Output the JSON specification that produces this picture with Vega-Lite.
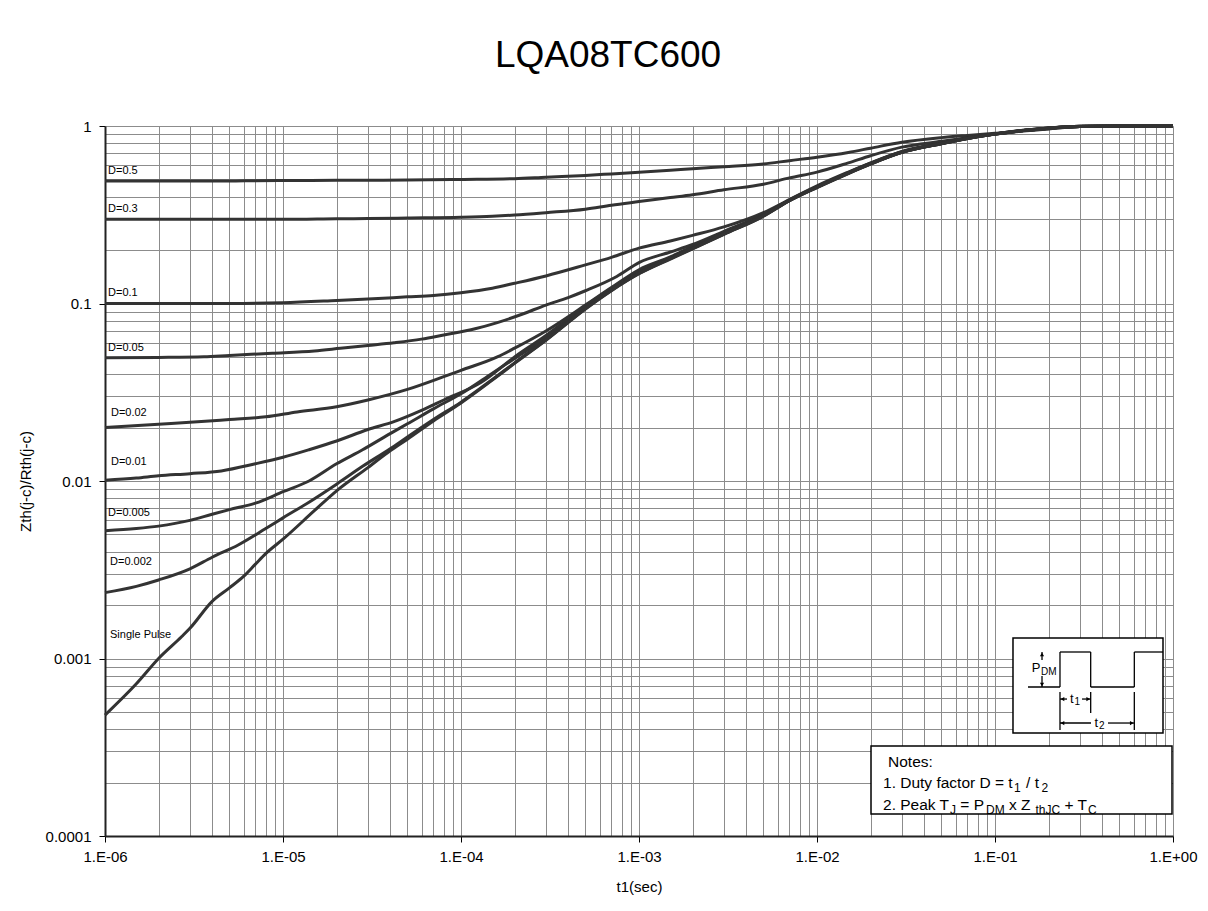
{
  "$schema": "https://vega.github.io/schema/vega-lite/v6.json",
  "width": 1068,
  "height": 710,
  "autosize": {"type": "none"},
  "padding": {"left": 105, "top": 126, "right": 35, "bottom": 75},
  "background": "white",
  "title": {"text": "LQA08TC600", "fontSize": 37, "font": "Liberation Sans", "fontWeight": "normal", "color": "black", "anchor": "middle", "dx": -31, "offset": 15, "baseline": "alphabetic"},
  "config": {"view": {"stroke": null}, "font": "Liberation Sans"},
  "datasets": {
    "curves": [
      {"series":"D=0.5","x":1e-6,"y":0.49},{"series":"D=0.5","x":3e-6,"y":0.49},{"series":"D=0.5","x":5e-6,"y":0.49},{"series":"D=0.5","x":7e-6,"y":0.492},{"series":"D=0.5","x":1e-5,"y":0.493},{"series":"D=0.5","x":2e-5,"y":0.494},{"series":"D=0.5","x":3e-5,"y":0.495},{"series":"D=0.5","x":5e-5,"y":0.496},{"series":"D=0.5","x":1e-4,"y":0.5},{"series":"D=0.5","x":2e-4,"y":0.505},{"series":"D=0.5","x":3e-4,"y":0.515},{"series":"D=0.5","x":5e-4,"y":0.527},{"series":"D=0.5","x":7e-4,"y":0.537},{"series":"D=0.5","x":1e-3,"y":0.548},{"series":"D=0.5","x":1.5e-3,"y":0.563},{"series":"D=0.5","x":2e-3,"y":0.575},{"series":"D=0.5","x":3e-3,"y":0.59},{"series":"D=0.5","x":5e-3,"y":0.611},{"series":"D=0.5","x":7e-3,"y":0.638},{"series":"D=0.5","x":1e-2,"y":0.667},{"series":"D=0.5","x":1.5e-2,"y":0.71},{"series":"D=0.5","x":2e-2,"y":0.75},{"series":"D=0.5","x":3e-2,"y":0.81},{"series":"D=0.5","x":5e-2,"y":0.86},{"series":"D=0.5","x":7e-2,"y":0.885},{"series":"D=0.5","x":0.1,"y":0.91},{"series":"D=0.5","x":0.15,"y":0.945},{"series":"D=0.5","x":0.2,"y":0.965},{"series":"D=0.5","x":0.3,"y":0.995},{"series":"D=0.5","x":0.5,"y":1},{"series":"D=0.5","x":1,"y":1},
      {"series":"D=0.3","x":1e-6,"y":0.298},{"series":"D=0.3","x":5e-6,"y":0.298},{"series":"D=0.3","x":1e-5,"y":0.298},{"series":"D=0.3","x":2e-5,"y":0.3},{"series":"D=0.3","x":3e-5,"y":0.301},{"series":"D=0.3","x":5e-5,"y":0.303},{"series":"D=0.3","x":1e-4,"y":0.306},{"series":"D=0.3","x":1.5e-4,"y":0.31},{"series":"D=0.3","x":2e-4,"y":0.315},{"series":"D=0.3","x":3e-4,"y":0.325},{"series":"D=0.3","x":5e-4,"y":0.34},{"series":"D=0.3","x":7e-4,"y":0.358},{"series":"D=0.3","x":1e-3,"y":0.375},{"series":"D=0.3","x":1.5e-3,"y":0.395},{"series":"D=0.3","x":2e-3,"y":0.41},{"series":"D=0.3","x":3e-3,"y":0.437},{"series":"D=0.3","x":5e-3,"y":0.47},{"series":"D=0.3","x":7e-3,"y":0.51},{"series":"D=0.3","x":1e-2,"y":0.55},{"series":"D=0.3","x":1.5e-2,"y":0.62},{"series":"D=0.3","x":2e-2,"y":0.68},{"series":"D=0.3","x":3e-2,"y":0.76},{"series":"D=0.3","x":5e-2,"y":0.82},{"series":"D=0.3","x":7e-2,"y":0.86},{"series":"D=0.3","x":0.1,"y":0.9},{"series":"D=0.3","x":0.15,"y":0.94},{"series":"D=0.3","x":0.2,"y":0.963},{"series":"D=0.3","x":0.3,"y":0.993},{"series":"D=0.3","x":0.5,"y":1},{"series":"D=0.3","x":1,"y":1},
      {"series":"D=0.1","x":1e-6,"y":0.1},{"series":"D=0.1","x":5e-6,"y":0.1},{"series":"D=0.1","x":1e-5,"y":0.101},{"series":"D=0.1","x":2e-5,"y":0.104},{"series":"D=0.1","x":3e-5,"y":0.106},{"series":"D=0.1","x":5e-5,"y":0.109},{"series":"D=0.1","x":7e-5,"y":0.111},{"series":"D=0.1","x":1e-4,"y":0.115},{"series":"D=0.1","x":1.5e-4,"y":0.122},{"series":"D=0.1","x":2e-4,"y":0.13},{"series":"D=0.1","x":3e-4,"y":0.143},{"series":"D=0.1","x":5e-4,"y":0.165},{"series":"D=0.1","x":7e-4,"y":0.182},{"series":"D=0.1","x":1e-3,"y":0.205},{"series":"D=0.1","x":1.5e-3,"y":0.225},{"series":"D=0.1","x":2e-3,"y":0.242},{"series":"D=0.1","x":3e-3,"y":0.27},{"series":"D=0.1","x":5e-3,"y":0.325},{"series":"D=0.1","x":7e-3,"y":0.385},{"series":"D=0.1","x":1e-2,"y":0.46},{"series":"D=0.1","x":1.5e-2,"y":0.55},{"series":"D=0.1","x":2e-2,"y":0.62},{"series":"D=0.1","x":3e-2,"y":0.72},{"series":"D=0.1","x":5e-2,"y":0.8},{"series":"D=0.1","x":7e-2,"y":0.855},{"series":"D=0.1","x":0.1,"y":0.905},{"series":"D=0.1","x":0.15,"y":0.95},{"series":"D=0.1","x":0.2,"y":0.974},{"series":"D=0.1","x":0.3,"y":0.996},{"series":"D=0.1","x":0.5,"y":1},{"series":"D=0.1","x":1,"y":1},
      {"series":"D=0.05","x":1e-6,"y":0.0495},{"series":"D=0.05","x":2e-6,"y":0.0497},{"series":"D=0.05","x":3.6e-6,"y":0.0501},{"series":"D=0.05","x":5e-6,"y":0.051},{"series":"D=0.05","x":8.7e-6,"y":0.0524},{"series":"D=0.05","x":1.5e-5,"y":0.054},{"series":"D=0.05","x":2.1e-5,"y":0.0559},{"series":"D=0.05","x":3e-5,"y":0.058},{"series":"D=0.05","x":4.2e-5,"y":0.0601},{"series":"D=0.05","x":6e-5,"y":0.063},{"series":"D=0.05","x":8e-5,"y":0.0665},{"series":"D=0.05","x":1.2e-4,"y":0.072},{"series":"D=0.05","x":1.6e-4,"y":0.078},{"series":"D=0.05","x":2.2e-4,"y":0.087},{"series":"D=0.05","x":3e-4,"y":0.098},{"series":"D=0.05","x":4e-4,"y":0.108},{"series":"D=0.05","x":5e-4,"y":0.118},{"series":"D=0.05","x":7.5e-4,"y":0.142},{"series":"D=0.05","x":1e-3,"y":0.17},{"series":"D=0.05","x":1.5e-3,"y":0.195},{"series":"D=0.05","x":2e-3,"y":0.215},{"series":"D=0.05","x":3e-3,"y":0.255},{"series":"D=0.05","x":5e-3,"y":0.318},{"series":"D=0.05","x":7e-3,"y":0.383},{"series":"D=0.05","x":1e-2,"y":0.456},{"series":"D=0.05","x":1.5e-2,"y":0.547},{"series":"D=0.05","x":2e-2,"y":0.617},{"series":"D=0.05","x":3e-2,"y":0.716},{"series":"D=0.05","x":5e-2,"y":0.798},{"series":"D=0.05","x":7e-2,"y":0.853},{"series":"D=0.05","x":0.1,"y":0.903},{"series":"D=0.05","x":0.15,"y":0.948},{"series":"D=0.05","x":0.2,"y":0.973},{"series":"D=0.05","x":0.3,"y":0.996},{"series":"D=0.05","x":0.5,"y":1},{"series":"D=0.05","x":1,"y":1},
      {"series":"D=0.02","x":1e-6,"y":0.02},{"series":"D=0.02","x":2e-6,"y":0.0209},{"series":"D=0.02","x":3e-6,"y":0.0214},{"series":"D=0.02","x":5e-6,"y":0.0222},{"series":"D=0.02","x":8e-6,"y":0.023},{"series":"D=0.02","x":1.2e-5,"y":0.0245},{"series":"D=0.02","x":2e-5,"y":0.0262},{"series":"D=0.02","x":3e-5,"y":0.0286},{"series":"D=0.02","x":5e-5,"y":0.0328},{"series":"D=0.02","x":8e-5,"y":0.0387},{"series":"D=0.02","x":1e-4,"y":0.042},{"series":"D=0.02","x":1.6e-4,"y":0.05},{"series":"D=0.02","x":2e-4,"y":0.056},{"series":"D=0.02","x":3e-4,"y":0.07},{"series":"D=0.02","x":5e-4,"y":0.098},{"series":"D=0.02","x":7e-4,"y":0.123},{"series":"D=0.02","x":1e-3,"y":0.155},{"series":"D=0.02","x":1.5e-3,"y":0.183},{"series":"D=0.02","x":2e-3,"y":0.21},{"series":"D=0.02","x":3e-3,"y":0.252},{"series":"D=0.02","x":5e-3,"y":0.316},{"series":"D=0.02","x":7e-3,"y":0.382},{"series":"D=0.02","x":1e-2,"y":0.455},{"series":"D=0.02","x":1.5e-2,"y":0.545},{"series":"D=0.02","x":2e-2,"y":0.615},{"series":"D=0.02","x":3e-2,"y":0.714},{"series":"D=0.02","x":5e-2,"y":0.797},{"series":"D=0.02","x":7e-2,"y":0.852},{"series":"D=0.02","x":0.1,"y":0.902},{"series":"D=0.02","x":0.15,"y":0.947},{"series":"D=0.02","x":0.2,"y":0.973},{"series":"D=0.02","x":0.3,"y":0.996},{"series":"D=0.02","x":0.5,"y":1},{"series":"D=0.02","x":1,"y":1},
      {"series":"D=0.01","x":1e-6,"y":0.0101},{"series":"D=0.01","x":1.5e-6,"y":0.0104},{"series":"D=0.01","x":2e-6,"y":0.0107},{"series":"D=0.01","x":3e-6,"y":0.011},{"series":"D=0.01","x":4.5e-6,"y":0.0114},{"series":"D=0.01","x":7e-6,"y":0.0125},{"series":"D=0.01","x":1e-5,"y":0.0136},{"series":"D=0.01","x":1.4e-5,"y":0.015},{"series":"D=0.01","x":2e-5,"y":0.0168},{"series":"D=0.01","x":3e-5,"y":0.0195},{"series":"D=0.01","x":4.2e-5,"y":0.0216},{"series":"D=0.01","x":6e-5,"y":0.025},{"series":"D=0.01","x":8e-5,"y":0.0286},{"series":"D=0.01","x":1.3e-4,"y":0.036},{"series":"D=0.01","x":2e-4,"y":0.05},{"series":"D=0.01","x":3e-4,"y":0.066},{"series":"D=0.01","x":5e-4,"y":0.097},{"series":"D=0.01","x":7e-4,"y":0.122},{"series":"D=0.01","x":1e-3,"y":0.151},{"series":"D=0.01","x":1.5e-3,"y":0.181},{"series":"D=0.01","x":2e-3,"y":0.207},{"series":"D=0.01","x":3e-3,"y":0.249},{"series":"D=0.01","x":5e-3,"y":0.314},{"series":"D=0.01","x":7e-3,"y":0.381},{"series":"D=0.01","x":1e-2,"y":0.453},{"series":"D=0.01","x":1.5e-2,"y":0.543},{"series":"D=0.01","x":2e-2,"y":0.613},{"series":"D=0.01","x":3e-2,"y":0.712},{"series":"D=0.01","x":5e-2,"y":0.796},{"series":"D=0.01","x":7e-2,"y":0.851},{"series":"D=0.01","x":0.1,"y":0.901},{"series":"D=0.01","x":0.15,"y":0.946},{"series":"D=0.01","x":0.2,"y":0.972},{"series":"D=0.01","x":0.3,"y":0.995},{"series":"D=0.01","x":0.5,"y":1},{"series":"D=0.01","x":1,"y":1},
      {"series":"D=0.005","x":1e-6,"y":0.00525},{"series":"D=0.005","x":1.5e-6,"y":0.0054},{"series":"D=0.005","x":2e-6,"y":0.00557},{"series":"D=0.005","x":3e-6,"y":0.006},{"series":"D=0.005","x":4e-6,"y":0.0065},{"series":"D=0.005","x":5e-6,"y":0.0069},{"series":"D=0.005","x":7e-6,"y":0.0075},{"series":"D=0.005","x":1e-5,"y":0.0087},{"series":"D=0.005","x":1.4e-5,"y":0.01},{"series":"D=0.005","x":2e-5,"y":0.0125},{"series":"D=0.005","x":2.8e-5,"y":0.015},{"series":"D=0.005","x":4e-5,"y":0.0185},{"series":"D=0.005","x":5e-5,"y":0.021},{"series":"D=0.005","x":7e-5,"y":0.0255},{"series":"D=0.005","x":1e-4,"y":0.031},{"series":"D=0.005","x":1.5e-4,"y":0.0405},{"series":"D=0.005","x":2e-4,"y":0.049},{"series":"D=0.005","x":3e-4,"y":0.064},{"series":"D=0.005","x":5e-4,"y":0.095},{"series":"D=0.005","x":7e-4,"y":0.12},{"series":"D=0.005","x":1e-3,"y":0.149},{"series":"D=0.005","x":1.5e-3,"y":0.18},{"series":"D=0.005","x":2e-3,"y":0.205},{"series":"D=0.005","x":3e-3,"y":0.247},{"series":"D=0.005","x":5e-3,"y":0.312},{"series":"D=0.005","x":7e-3,"y":0.38},{"series":"D=0.005","x":1e-2,"y":0.452},{"series":"D=0.005","x":1.5e-2,"y":0.542},{"series":"D=0.005","x":2e-2,"y":0.612},{"series":"D=0.005","x":3e-2,"y":0.711},{"series":"D=0.005","x":5e-2,"y":0.796},{"series":"D=0.005","x":7e-2,"y":0.85},{"series":"D=0.005","x":0.1,"y":0.9},{"series":"D=0.005","x":0.15,"y":0.946},{"series":"D=0.005","x":0.2,"y":0.972},{"series":"D=0.005","x":0.3,"y":0.995},{"series":"D=0.005","x":0.5,"y":1},{"series":"D=0.005","x":1,"y":1},
      {"series":"D=0.002","x":1e-6,"y":0.00235},{"series":"D=0.002","x":1.5e-6,"y":0.00255},{"series":"D=0.002","x":2e-6,"y":0.00277},{"series":"D=0.002","x":3e-6,"y":0.0032},{"series":"D=0.002","x":4e-6,"y":0.00372},{"series":"D=0.002","x":5.6e-6,"y":0.00436},{"series":"D=0.002","x":8e-6,"y":0.0054},{"series":"D=0.002","x":1e-5,"y":0.0062},{"series":"D=0.002","x":1.4e-5,"y":0.0076},{"series":"D=0.002","x":2e-5,"y":0.0096},{"series":"D=0.002","x":2.8e-5,"y":0.0121},{"series":"D=0.002","x":4e-5,"y":0.0152},{"series":"D=0.002","x":5e-5,"y":0.0177},{"series":"D=0.002","x":7e-5,"y":0.0222},{"series":"D=0.002","x":1e-4,"y":0.0278},{"series":"D=0.002","x":1.5e-4,"y":0.0373},{"series":"D=0.002","x":2e-4,"y":0.0463},{"series":"D=0.002","x":3e-4,"y":0.0623},{"series":"D=0.002","x":5e-4,"y":0.0935},{"series":"D=0.002","x":7e-4,"y":0.1185},{"series":"D=0.002","x":1e-3,"y":0.1475},{"series":"D=0.002","x":1.5e-3,"y":0.179},{"series":"D=0.002","x":2e-3,"y":0.204},{"series":"D=0.002","x":3e-3,"y":0.246},{"series":"D=0.002","x":5e-3,"y":0.311},{"series":"D=0.002","x":7e-3,"y":0.38},{"series":"D=0.002","x":1e-2,"y":0.451},{"series":"D=0.002","x":1.5e-2,"y":0.541},{"series":"D=0.002","x":2e-2,"y":0.611},{"series":"D=0.002","x":3e-2,"y":0.711},{"series":"D=0.002","x":5e-2,"y":0.795},{"series":"D=0.002","x":7e-2,"y":0.85},{"series":"D=0.002","x":0.1,"y":0.9},{"series":"D=0.002","x":0.15,"y":0.945},{"series":"D=0.002","x":0.2,"y":0.972},{"series":"D=0.002","x":0.3,"y":0.995},{"series":"D=0.002","x":0.5,"y":1},{"series":"D=0.002","x":1,"y":1},
      {"series":"Single","x":1e-6,"y":0.00048},{"series":"Single","x":1.5e-6,"y":0.00072},{"series":"Single","x":2e-6,"y":0.001},{"series":"Single","x":2.7e-6,"y":0.00133},{"series":"Single","x":3e-6,"y":0.00148},{"series":"Single","x":4e-6,"y":0.0021},{"series":"Single","x":5e-6,"y":0.0025},{"series":"Single","x":6e-6,"y":0.0029},{"series":"Single","x":7e-6,"y":0.0034},{"series":"Single","x":8e-6,"y":0.0039},{"series":"Single","x":1e-5,"y":0.0047},{"series":"Single","x":1.5e-5,"y":0.0068},{"series":"Single","x":2e-5,"y":0.0088},{"series":"Single","x":3e-5,"y":0.0119},{"series":"Single","x":4e-5,"y":0.0148},{"series":"Single","x":5e-5,"y":0.0172},{"series":"Single","x":7e-5,"y":0.0218},{"series":"Single","x":1e-4,"y":0.0275},{"series":"Single","x":1.5e-4,"y":0.037},{"series":"Single","x":2e-4,"y":0.046},{"series":"Single","x":3e-4,"y":0.062},{"series":"Single","x":5e-4,"y":0.093},{"series":"Single","x":7e-4,"y":0.118},{"series":"Single","x":1e-3,"y":0.147},{"series":"Single","x":1.5e-3,"y":0.178},{"series":"Single","x":2e-3,"y":0.203},{"series":"Single","x":3e-3,"y":0.245},{"series":"Single","x":5e-3,"y":0.31},{"series":"Single","x":7e-3,"y":0.379},{"series":"Single","x":1e-2,"y":0.45},{"series":"Single","x":1.5e-2,"y":0.54},{"series":"Single","x":2e-2,"y":0.61},{"series":"Single","x":3e-2,"y":0.71},{"series":"Single","x":5e-2,"y":0.795},{"series":"Single","x":7e-2,"y":0.85},{"series":"Single","x":0.1,"y":0.9},{"series":"Single","x":0.15,"y":0.945},{"series":"Single","x":0.2,"y":0.972},{"series":"Single","x":0.3,"y":0.995},{"series":"Single","x":0.5,"y":1},{"series":"Single","x":1,"y":1}
    ],
    "labels": [
      {"x":1.04e-6,"y":0.5577,"text":"D=0.5"},
      {"x":1.04e-6,"y":0.3406,"text":"D=0.3"},
      {"x":1.04e-6,"y":0.1146,"text":"D=0.1"},
      {"x":1.04e-6,"y":0.0561,"text":"D=0.05"},
      {"x":1.08e-6,"y":0.02415,"text":"D=0.02"},
      {"x":1.08e-6,"y":0.01279,"text":"D=0.01"},
      {"x":1.04e-6,"y":0.0066,"text":"D=0.005"},
      {"x":1.067e-6,"y":0.0035,"text":"D=0.002"},
      {"x":1.067e-6,"y":0.001357,"text":"Single Pulse"}
    ],
    "boxes": [
      {"x":0.02011,"x2":0.9872,"y":3.214e-4,"y2":1.33e-4},
      {"x":0.1262,"x2":0.8787,"y":0.001305,"y2":3.8e-4}
    ],
    "segments": [
      {"x":0.1532,"x2":0.2318,"y":6.91e-4,"y2":6.91e-4},
      {"x":0.2318,"x2":0.2318,"y":6.91e-4,"y2":1.088e-3},
      {"x":0.2318,"x2":0.3448,"y":1.088e-3,"y2":1.088e-3},
      {"x":0.3448,"x2":0.3448,"y":1.088e-3,"y2":6.91e-4},
      {"x":0.3448,"x2":0.6063,"y":6.91e-4,"y2":6.91e-4},
      {"x":0.6063,"x2":0.6063,"y":6.91e-4,"y2":1.088e-3},
      {"x":0.6063,"x2":0.8787,"y":1.088e-3,"y2":1.088e-3},
      {"x":0.1837,"x2":0.1837,"y":1.088e-3,"y2":9.8e-4},
      {"x":0.1837,"x2":0.1837,"y":7.97e-4,"y2":6.91e-4},
      {"x":0.2318,"x2":0.2318,"y":6.48e-4,"y2":3.95e-4},
      {"x":0.3448,"x2":0.3448,"y":6.48e-4,"y2":4.93e-4},
      {"x":0.6063,"x2":0.6063,"y":6.48e-4,"y2":3.95e-4},
      {"x":0.2318,"x2":0.2538,"y":5.91e-4,"y2":5.91e-4},
      {"x":0.3083,"x2":0.3448,"y":5.91e-4,"y2":5.91e-4},
      {"x":0.2318,"x2":0.3462,"y":4.33e-4,"y2":4.33e-4},
      {"x":0.4313,"x2":0.6063,"y":4.33e-4,"y2":4.33e-4}
    ],
    "arrowLeft": [{"x":0.2394,"y":5.91e-4},{"x":0.2394,"y":4.33e-4}],
    "arrowRight": [{"x":0.334,"y":5.91e-4},{"x":0.5869,"y":4.33e-4}],
    "arrowDown": [{"x":0.1837,"y":7.14e-4}],
    "arrowUp": [{"x":0.1837,"y":1.053e-3}],
    "notesText": [
      {"x":0.02506,"y":2.611e-4,"text":"Notes:"},
      {"x":0.02349,"y":1.988e-4,"text":"1. Duty factor D = t"},
      {"x":0.1494,"y":1.988e-4,"text":"/ t"},
      {"x":0.02349,"y":1.495e-4,"text":"2. Peak T"},
      {"x":0.06385,"y":1.495e-4,"text":"= P"},
      {"x":0.1199,"y":1.495e-4,"text":"x  Z"},
      {"x":0.2457,"y":1.495e-4,"text":"+ T"}
    ],
    "notesSub": [
      {"x":0.1278,"y":1.864e-4,"text":"1"},
      {"x":0.1825,"y":1.864e-4,"text":"2"},
      {"x":0.05587,"y":1.41e-4,"text":"J"},
      {"x":0.08899,"y":1.41e-4,"text":"DM"},
      {"x":0.1689,"y":1.41e-4,"text":"thJC"},
      {"x":0.3332,"y":1.41e-4,"text":"C"}
    ],
    "pulseText": [
      {"x":0.1608,"y":8.84e-4,"text":"P"},
      {"x":0.2638,"y":5.91e-4,"text":"t"},
      {"x":0.3622,"y":4.33e-4,"text":"t"}
    ],
    "pulseSub": [
      {"x":0.1813,"y":8.39e-4,"text":"DM"},
      {"x":0.2797,"y":5.69e-4,"text":"1"},
      {"x":0.3839,"y":4.17e-4,"text":"2"}
    ]
  },
  "encoding": {
    "x": {
      "field": "x", "type": "quantitative",
      "scale": {"type": "log", "domain": [1e-6, 1], "nice": false},
      "axis": {
        "values": [1e-6,2e-6,3e-6,4e-6,5e-6,6e-6,7e-6,8e-6,9e-6,1e-5,2e-5,3e-5,4e-5,5e-5,6e-5,7e-5,8e-5,9e-5,1e-4,2e-4,3e-4,4e-4,5e-4,6e-4,7e-4,8e-4,9e-4,1e-3,2e-3,3e-3,4e-3,5e-3,6e-3,7e-3,8e-3,9e-3,1e-2,2e-2,3e-2,4e-2,5e-2,6e-2,7e-2,8e-2,9e-2,0.1,0.2,0.3,0.4,0.5,0.6,0.7,0.8,0.9,1],
        "title": "t1(sec)", "titleFont": "Liberation Sans", "titleFontSize": 15, "titleFontWeight": "normal", "titleColor": "black", "titleY": 50, "titleBaseline": "middle",
        "labelExpr": "abs(log(datum.value)/LN10 - round(log(datum.value)/LN10)) < 0.001 ? '1.E' + (round(log(datum.value)/LN10) < 0 ? '-' : '+') + pad(toString(abs(round(log(datum.value)/LN10))), 2, '0', 'left') : ''",
        "labelFont": "Liberation Sans", "labelFontSize": 15, "labelColor": "black", "labelOverlap": false, "labelFlush": false, "labelPadding": 7,
        "tickSize": 6, "tickColor": "black", "tickWidth": 1,
        "tickOpacity": {"condition": {"test": "abs(log(datum.value)/LN10 - round(log(datum.value)/LN10)) < 0.001", "value": 1}, "value": 0},
        "domainColor": "#222222", "domainWidth": 2,
        "grid": true, "gridColor": "#8c8c8c", "gridWidth": 1
      }
    },
    "y": {
      "field": "y", "type": "quantitative",
      "scale": {"type": "log", "domain": [1e-4, 1], "nice": false},
      "axis": {
        "values": [1e-4,2e-4,3e-4,4e-4,5e-4,6e-4,7e-4,8e-4,9e-4,1e-3,2e-3,3e-3,4e-3,5e-3,6e-3,7e-3,8e-3,9e-3,1e-2,2e-2,3e-2,4e-2,5e-2,6e-2,7e-2,8e-2,9e-2,0.1,0.2,0.3,0.4,0.5,0.6,0.7,0.8,0.9,1],
        "title": "Zth(j-c)/Rth(j-c)", "titleFont": "Liberation Sans", "titleFontSize": 15, "titleFontWeight": "normal", "titleColor": "black", "titleX": -80, "titleY": 355, "titleAngle": 270, "titleAlign": "center", "titleBaseline": "middle",
        "labelExpr": "abs(log(datum.value)/LN10 - round(log(datum.value)/LN10)) < 0.001 ? toString(datum.value) : ''",
        "labelFont": "Liberation Sans", "labelFontSize": 15, "labelColor": "black", "labelOverlap": false, "labelFlush": false, "labelPadding": 8,
        "tickSize": 6, "tickColor": "black", "tickWidth": 1,
        "tickOpacity": {"condition": {"test": "abs(log(datum.value)/LN10 - round(log(datum.value)/LN10)) < 0.001", "value": 1}, "value": 0},
        "domainColor": "#222222", "domainWidth": 2,
        "grid": true, "gridColor": "#8c8c8c", "gridWidth": 1
      }
    }
  },
  "layer": [
    {
      "data": {"name": "curves"},
      "mark": {"type": "line", "color": "#333333", "strokeWidth": 3, "interpolate": "monotone"},
      "encoding": {"detail": {"field": "series"}}
    },
    {
      "data": {"name": "labels"},
      "mark": {"type": "text", "align": "left", "baseline": "middle", "fontSize": 11, "font": "Liberation Sans", "color": "black"},
      "encoding": {"text": {"field": "text"}}
    },
    {
      "data": {"name": "boxes"},
      "mark": {"type": "rect", "fill": "white", "stroke": "black", "strokeWidth": 1.5},
      "encoding": {"x2": {"field": "x2"}, "y2": {"field": "y2"}}
    },
    {
      "data": {"name": "segments"},
      "mark": {"type": "rule", "color": "black", "strokeWidth": 1.3},
      "encoding": {"x2": {"field": "x2"}, "y2": {"field": "y2"}}
    },
    {
      "data": {"name": "arrowLeft"},
      "mark": {"type": "point", "shape": "triangle-left", "filled": true, "color": "black", "size": 18, "opacity": 1},
      "encoding": {}
    },
    {
      "data": {"name": "arrowRight"},
      "mark": {"type": "point", "shape": "triangle-right", "filled": true, "color": "black", "size": 18, "opacity": 1},
      "encoding": {}
    },
    {
      "data": {"name": "arrowDown"},
      "mark": {"type": "point", "shape": "triangle-down", "filled": true, "color": "black", "size": 18, "opacity": 1},
      "encoding": {}
    },
    {
      "data": {"name": "arrowUp"},
      "mark": {"type": "point", "shape": "triangle-up", "filled": true, "color": "black", "size": 18, "opacity": 1},
      "encoding": {}
    },
    {
      "data": {"name": "notesText"},
      "mark": {"type": "text", "align": "left", "baseline": "middle", "fontSize": 15.5, "font": "Liberation Sans", "color": "black"},
      "encoding": {"text": {"field": "text"}}
    },
    {
      "data": {"name": "notesSub"},
      "mark": {"type": "text", "align": "left", "baseline": "middle", "fontSize": 12, "font": "Liberation Sans", "color": "black"},
      "encoding": {"text": {"field": "text"}}
    },
    {
      "data": {"name": "pulseText"},
      "mark": {"type": "text", "align": "left", "baseline": "middle", "fontSize": 13, "font": "Liberation Sans", "color": "black"},
      "encoding": {"text": {"field": "text"}}
    },
    {
      "data": {"name": "pulseSub"},
      "mark": {"type": "text", "align": "left", "baseline": "middle", "fontSize": 10, "font": "Liberation Sans", "color": "black"},
      "encoding": {"text": {"field": "text"}}
    }
  ]
}
